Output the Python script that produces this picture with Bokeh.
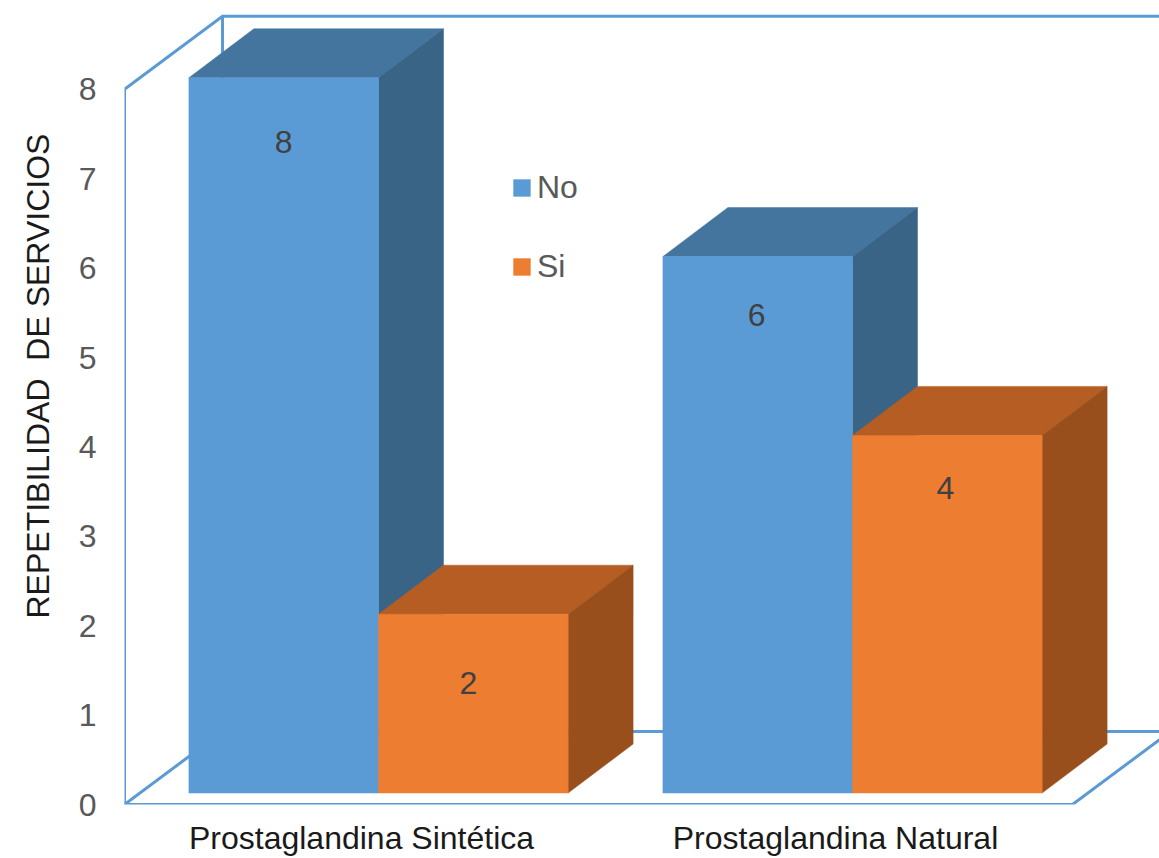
from bokeh.embed import file_html
from bokeh.resources import INLINE
from bokeh.plotting import figure
from bokeh.models import (ColumnDataSource, FixedTicker, Legend, LegendItem,
                          Range1d, Title)
from bokeh.core.properties import value

categories = ["Prostaglandina Sintética", "Prostaglandina Natural"]
no_values = [8, 6]
si_values = [2, 4]
y_ticks = [0, 1, 2, 3, 4, 5, 6, 7, 8]
y_title = "REPETIBILIDAD \u00a0DE SERVICIOS"

FONT = "Liberation Sans"
FONT_SIZE = "32px"
FRAME_BLUE = "#5B9BD5"
NO_FACES = ("#5B9BD5", "#44759F", "#3A6486")
SI_FACES = ("#ED7D31", "#B55D22", "#984F1C")

WIDTH, HEIGHT = 1159, 858
LEFT, BOTTOM = 124, 54
PX_PER_CAT = 474.0
PX_PER_UNIT = 89.4

# Oblique projection: depth offsets expressed in data units
BAR_WIDTH = 0.4
WALL_DX, WALL_DY = 98 / PX_PER_CAT, 73 / PX_PER_UNIT
LIFT_DX, LIFT_DY = 17 / PX_PER_CAT, 11.5 / PX_PER_UNIT
DEPTH_DX, DEPTH_DY = 65 / PX_PER_CAT, 49 / PX_PER_UNIT
Y_MAX = y_ticks[-1]

x_lo, x_hi = -0.5, len(categories) - 0.5

p = figure(width=WIDTH, height=HEIGHT, output_backend="svg", toolbar_location=None,
           x_range=Range1d(x_lo, x_lo + (WIDTH - LEFT) / PX_PER_CAT),
           y_range=Range1d(0, (HEIGHT - BOTTOM) / PX_PER_UNIT),
           min_border_left=LEFT, min_border_right=0, min_border_top=0,
           min_border_bottom=BOTTOM, outline_line_color=None,
           background_fill_color="white", border_fill_color="white")
p.grid.visible = False

# Axes carry only the labels: the wire frame below draws the box
p.xaxis.ticker = FixedTicker(ticks=list(range(len(categories))))
p.xaxis.major_label_overrides = {i: c for i, c in enumerate(categories)}
p.xaxis.axis_line_color = None
p.xaxis.major_tick_line_color = None
p.xaxis.minor_tick_line_color = None
p.xaxis.major_label_text_font = FONT
p.xaxis.major_label_text_font_size = FONT_SIZE
p.xaxis.major_label_text_color = "#1a1a1a"
p.xaxis.major_label_standoff = 9

p.yaxis.ticker = FixedTicker(ticks=y_ticks)
p.yaxis.axis_line_color = None
p.yaxis.major_tick_line_color = None
p.yaxis.minor_tick_line_color = None
p.yaxis.major_label_text_font = FONT
p.yaxis.major_label_text_font_size = FONT_SIZE
p.yaxis.major_label_text_color = "#595959"
p.yaxis.major_label_standoff = 22

# Wire frame of the chart box
frame_paths = [
    ([x_lo, x_lo, x_lo + WALL_DX, x_hi + 1], [0, Y_MAX, Y_MAX + WALL_DY, Y_MAX + WALL_DY]),
    ([x_lo + WALL_DX, x_lo + WALL_DX], [Y_MAX + WALL_DY, WALL_DY]),
    ([x_lo + WALL_DX, x_hi + 1], [WALL_DY, WALL_DY]),
    ([x_lo + WALL_DX, x_lo, x_hi, x_hi + WALL_DX], [WALL_DY, 0, 0, WALL_DY]),
]
p.multi_line([f[0] for f in frame_paths], [f[1] for f in frame_paths],
             line_color=FRAME_BLUE, line_width=3, line_join="miter")


def draw_series(values, side, faces):
    """Draw one series as boxes: side and top faces first, then the front."""
    front_c, top_c, side_c = faces
    left = [i + LIFT_DX + (BAR_WIDTH * side) for i in range(len(values))]
    right = [l + BAR_WIDTH for l in left]
    base = [LIFT_DY] * len(values)
    top = [v + LIFT_DY for v in values]
    p.patches(
        [[l, r, r + DEPTH_DX, l + DEPTH_DX] for l, r in zip(left, right)],
        [[t, t, t + DEPTH_DY, t + DEPTH_DY] for t in top],
        fill_color=top_c, line_color=top_c, line_width=0.5)
    p.patches(
        [[r, r + DEPTH_DX, r + DEPTH_DX, r] for r in right],
        [[b, b + DEPTH_DY, t + DEPTH_DY, t] for b, t in zip(base, top)],
        fill_color=side_c, line_color=side_c, line_width=0.5)
    return p.quad(left=left, right=right, bottom=base, top=top,
                  fill_color=front_c, line_color=front_c, line_width=0.5)


no_bars = draw_series(no_values, -1, NO_FACES)
si_bars = draw_series(si_values, 0, SI_FACES)

# Value labels sit just inside each bar's front face
label_drop_no = [64, 58]
label_drop_si = [69, 53]
label_nudge_no = [0, -1]
label_nudge_si = [-5, -2]
labels = ColumnDataSource(dict(
    x=[i + LIFT_DX - BAR_WIDTH / 2 for i in range(len(no_values))]
      + [i + LIFT_DX + BAR_WIDTH / 2 for i in range(len(si_values))],
    y=[v + LIFT_DY for v in no_values + si_values],
    nudge=label_nudge_no + label_nudge_si,
    drop=label_drop_no + label_drop_si,
    text=[str(v) for v in no_values + si_values],
))
p.text(x="x", y="y", text="text", x_offset="nudge", y_offset="drop", source=labels,
       text_font=value(FONT), text_font_size=FONT_SIZE, text_color="#404040",
       text_align="center", text_baseline="middle")

legend = Legend(
    items=[LegendItem(label="No", renderers=[no_bars]),
           LegendItem(label="Si", renderers=[si_bars])],
    location=(387, 519), orientation="vertical", spacing=42,
    glyph_width=21, glyph_height=21, label_standoff=5, padding=0, margin=0,
    border_line_color=None, background_fill_alpha=0,
    label_text_font=FONT, label_text_font_size=FONT_SIZE, label_text_color="#595959",
    label_height=34)
p.add_layout(legend, "center")

# Rotated title placed in the left margin, beyond the tick labels
p.add_layout(Title(text=y_title, align="left", offset=186, standoff=36, vertical_align="top",
                   text_font=FONT, text_font_size=FONT_SIZE, text_font_style="normal",
                   text_color="#1a1a1a"), "left")

open("out.html", "w").write(file_html(p, INLINE))
